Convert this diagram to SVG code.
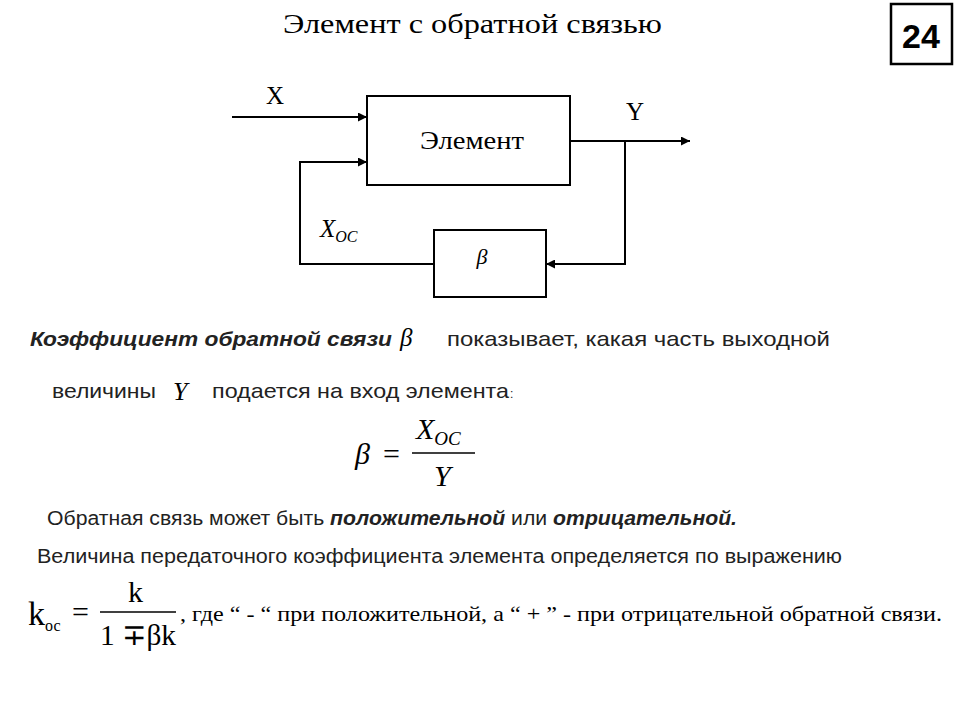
<svg xmlns="http://www.w3.org/2000/svg" width="960" height="720" viewBox="0 0 960 720">
<defs>
<marker id="ar" viewBox="0 0 10 10" refX="10" refY="5" markerWidth="13" markerHeight="9" markerUnits="userSpaceOnUse" orient="auto"><path d="M0,0 L10,5 L0,10 Z" fill="#000"/></marker>
<style>
.s{font-family:"Liberation Serif",serif;fill:#000}
.a{font-family:"Liberation Sans",Arial,sans-serif;fill:#222}
.ln{stroke:#000;stroke-width:2;fill:none}
.bx{stroke:#000;stroke-width:2;fill:#fff}
</style>
</defs>
<rect width="960" height="720" fill="#fff"/>
<text class="s" x="283" y="33" font-size="28" textLength="379" lengthAdjust="spacingAndGlyphs">Элемент с обратной связью</text>
<g id="num"><rect x="891" y="4" width="61" height="60" fill="#fff" stroke="#000" stroke-width="2.5"/><text x="921" y="48" font-family="Liberation Sans,Arial,sans-serif" font-weight="bold" font-size="34" text-anchor="middle">24</text></g>
<g id="connectors">
<line class="ln" x1="232" y1="117" x2="367" y2="117" marker-end="url(#ar)"/>
<line class="ln" x1="570" y1="141" x2="690" y2="141" marker-end="url(#ar)"/>
<polyline class="ln" points="625,141 625,264 546,264" marker-end="url(#ar)"/>
<polyline class="ln" points="434,264 300,264 300,162 367,162" marker-end="url(#ar)"/>
</g>
<g id="element"><rect class="bx" x="367" y="96" width="203" height="89"/><text class="s" x="420" y="149" font-size="26" textLength="104" lengthAdjust="spacingAndGlyphs">Элемент</text></g>
<g id="beta"><rect class="bx" x="434" y="230" width="112" height="67"/><text class="s" x="482" y="264" font-size="22" font-style="italic" text-anchor="middle">β</text></g>
<text class="s" x="266" y="104" font-size="25">X</text>
<text class="s" x="626" y="120" font-size="25">Y</text>
<text class="s" x="320" y="237" font-size="25" font-style="italic">X<tspan font-size="16" dy="5">OC</tspan></text>
<text class="a" x="30" y="346" font-size="21" font-weight="bold" font-style="italic" textLength="362" lengthAdjust="spacingAndGlyphs">Коэффициент обратной связи</text>
<text class="s" x="400" y="346" font-size="25" font-style="italic">β</text>
<text class="a" x="447" y="346" font-size="21" textLength="383" lengthAdjust="spacingAndGlyphs">показывает, какая часть выходной</text>
<text class="a" x="52" y="398" font-size="21" textLength="104" lengthAdjust="spacingAndGlyphs">величины</text>
<text class="s" x="173" y="400" font-size="26" font-style="italic">Y</text>
<text class="a" x="212" y="398" font-size="21" textLength="297" lengthAdjust="spacingAndGlyphs">подается на вход элемента</text>
<text class="a" x="510" y="398" font-size="12">:</text>
<g id="f1">
<text class="s" x="355" y="464" font-size="30" font-style="italic">β</text>
<text class="s" x="383" y="464" font-size="30">=</text>
<text class="s" x="416" y="439" font-size="30" font-style="italic">X<tspan font-size="19" dy="6">OC</tspan></text>
<line x1="412" y1="453" x2="475" y2="453" stroke="#000" stroke-width="1.5"/>
<text class="s" x="434" y="486" font-size="30" font-style="italic">Y</text>
</g>
<text class="a" x="47" y="525" font-size="20" textLength="690" lengthAdjust="spacingAndGlyphs">Обратная связь может быть <tspan font-weight="bold" font-style="italic">положительной</tspan> или <tspan font-weight="bold" font-style="italic">отрицательной.</tspan></text>
<text class="a" x="37" y="563" font-size="20" textLength="805" lengthAdjust="spacingAndGlyphs">Величина передаточного коэффициента элемента определяется по выражению</text>
<g id="f2">
<text class="s" x="28" y="625" font-size="34">k<tspan font-size="16" dy="6">ос</tspan></text>
<text class="s" x="72" y="622" font-size="30">=</text>
<text class="s" x="128" y="602" font-size="30">k</text>
<line x1="100" y1="612" x2="176" y2="612" stroke="#000" stroke-width="1.5"/>
<text class="s" x="100" y="645" font-size="30" textLength="76" lengthAdjust="spacingAndGlyphs">1 ∓βk</text>
<text class="s" x="180" y="621" font-size="21" textLength="762" lengthAdjust="spacingAndGlyphs">, где “ - “ при положительной, а “ + ” - при отрицательной обратной связи.</text>
</g>
</svg>
